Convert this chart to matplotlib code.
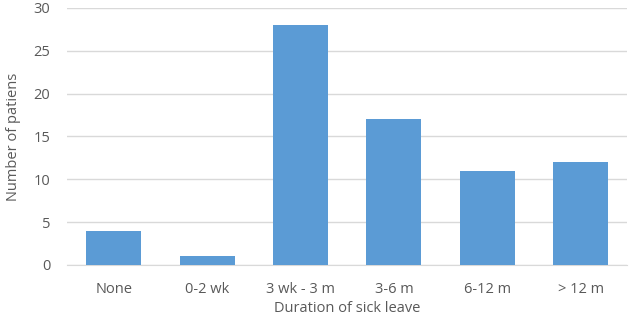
import matplotlib
matplotlib.use("Agg")
import matplotlib.pyplot as plt

categories = ["None", "0-2 wk", "3 wk - 3 m", "3-6 m", "6-12 m", "> 12 m"]
patients = [4, 1, 28, 17, 11, 12]
yticks = [0, 5, 10, 15, 20, 25, 30]

plt.rcParams['font.family'] = ['Open Sans', 'DejaVu Sans']
txt = '#595959'

fig = plt.figure(figsize=(6.29, 3.18), dpi=100)
ax = fig.add_axes([0.1065, 0.167, 0.891, 0.808])

ax.bar(range(len(categories)), patients, width=0.59, color='#5B9BD5', zorder=3)
ax.set_xlim(-0.5, len(categories) - 0.5)
ax.set_ylim(0, 30)
ax.set_yticks(yticks)
ax.set_xticks(range(len(categories)))
ax.set_xticklabels(categories)
ax.grid(axis='y', color='#D9D9D9', linewidth=1, zorder=0)
for s in ['top', 'right', 'left']:
    ax.spines[s].set_visible(False)
ax.spines['bottom'].set_color('#D9D9D9')
ax.tick_params(length=0, colors=txt, labelsize=10.5)
ax.tick_params(axis='x', pad=12)
ax.tick_params(axis='y', pad=12)
ax.set_xlabel('Duration of sick leave', color=txt, fontsize=10.5, labelpad=3)
ax.set_ylabel('Number of patiens', color=txt, fontsize=10.5, labelpad=9)

fig.savefig('out.png', dpi=100)
